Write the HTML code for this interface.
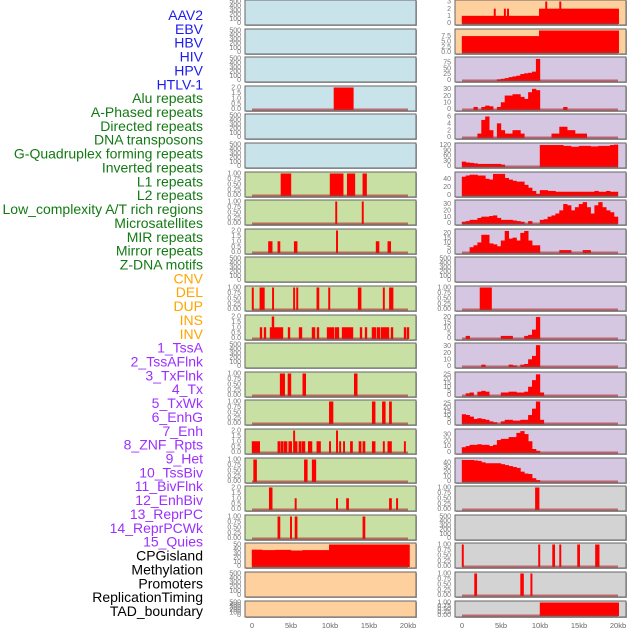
<!DOCTYPE html>
<html><head><meta charset="utf-8"><style>
html,body{margin:0;padding:0;background:#fff;}
svg{display:block;font-family:"Liberation Sans",sans-serif;}
</style></head><body>
<svg id="chart" width="630" height="630" viewBox="0 0 630 630" xmlns="http://www.w3.org/2000/svg"></svg>
<script>
// ---- labels ----
const trackLabels = ["AAV2","EBV","HBV","HIV","HPV","HTLV-1","Alu repeats","A-Phased repeats","Directed repeats","DNA transposons","G-Quadruplex forming repeats","Inverted repeats","L1 repeats","L2 repeats","Low_complexity A/T rich regions","Microsatellites","MIR repeats","Mirror repeats","Z-DNA motifs","CNV","DEL","DUP","INS","INV","1_TssA","2_TssAFlnk","3_TxFlnk","4_Tx","5_TxWk","6_EnhG","7_Enh","8_ZNF_Rpts","9_Het","10_TssBiv","11_BivFlnk","12_EnhBiv","13_ReprPC","14_ReprPCWk","15_Quies","CPGisland","Methylation","Promoters","ReplicationTiming","TAD_boundary"];
const labelGroups = ["v","v","v","v","v","v","r","r","r","r","r","r","r","r","r","r","r","r","r","s","s","s","s","s","c","c","c","c","c","c","c","c","c","c","c","c","c","c","c","k","k","k","k","k"];
const xTickLabels = ["0","5kb","10kb","15kb","20kb"];
const xTickValues = [0,5,10,15,20];
// ---- tick label sets ----
const T500 = ["0","100","200","300","400","500"];
const T1 = ["0.00","0.25","0.50","0.75","1.00"];
const T2 = ["0.0","0.5","1.0","1.5","2.0"];
// ---- left column segments [startKb, endKb, value] ----
const leftAlu = [[10.5,13.0,2]];
const leftL1 = [[3.7,5.0,1],[10.0,11.7,1],[12.2,13.2,1],[14.2,14.7,1]];
const leftLowComplex = [[10.7,10.9,1],[14.1,14.3,1]];
const leftMIR = [[2.1,2.6,1],[3.3,3.6,1],[5.4,5.8,1],[10.8,11.0,2],[15.9,16.3,1],[17.4,17.8,1]];
const leftDEL = [[0,0.2,1],[1.0,1.6,1],[2.6,2.8,1],[5.3,5.5,1],[5.7,5.9,1],[8.3,8.6,1],[9.8,10.0,1],[13.6,14.0,1],[16.8,17.0,1],[17.6,18.1,1]];
const leftINS = [[1.03,1.28,1],[1.54,1.79,1],[2.31,3.97,1],[2.56,2.82,2],[4.62,4.87,1],[6.03,6.41,1],[7.69,8.08,1],[8.33,8.59,1],[9.62,10.51,1],[10.64,11.15,1],[11.54,12.95,1],[13.85,14.10,1],[14.49,14.74,1],[15.38,15.90,1],[16.03,16.41,1],[16.54,17.56,1],[17.82,18.08,1],[19.49,19.74,1],[19.87,20.13,1]];
const leftRow13 = [[3.6,4.2,1],[4.6,5.0,1],[6.5,6.9,1],[13.1,13.5,1]];
const leftRow14 = [[9.9,10.4,1],[15.4,15.8,1],[16.7,17.1,1],[17.6,17.9,1]];
const leftRow15 = [[0,1.0,1],[3.3,3.6,1],[3.7,4.0,1],[4.1,4.5,1],[4.7,5.1,1],[5.3,5.5,2],[5.5,5.8,1],[6.0,6.3,1],[6.4,6.8,1],[7.2,7.7,1],[8.3,8.8,1],[9.9,10.1,1],[10.8,11.0,2],[11.2,11.4,1],[11.7,11.9,1],[12.6,12.9,1],[13.7,14.0,1],[14.2,14.5,1],[15.4,15.8,1],[16.8,17.0,1],[17.4,17.9,1],[19.5,19.7,1]];
const leftRow16 = [[0.2,0.6,1],[6.7,7.1,1],[7.7,8.2,1]];
const leftRow17 = [[2.2,2.6,2],[5.5,5.7,1],[10.8,11.0,1],[12.1,12.4,1],[17.6,17.9,1],[18.5,18.7,1]];
const leftRow18 = [[3.3,3.6,1],[4.9,5.1,1],[5.5,5.8,1],[14.2,14.5,1]];
const leftCPG = [[0,1.3,38],[1.3,3,37],[3,5,37.5],[5,6.5,36],[6.5,9.9,37],[9.9,20.2,50]];
// ---- right column: segments and 0.5kb-bin histograms ----
const rightRow0 = [[0,9.9,1],[9.9,20.1,2],[4.1,4.3,2],[5.4,5.6,2],[5.8,6.0,2],[10.7,10.9,3],[12.5,12.7,3]];
const rightRow1 = [[0,9.9,7.4],[9.9,20.1,10]];
const rightHIV = [0,0,0,0,0,0,0,0,0,3,5,8,12,15,18,25,28,30,35,88,0,0,0,0,0,0,0,0,0,0,0,0,0,0,0,0,0,0,0,0];
const rightAlu = [0,0,0,3,0,3,5,4,0,3,10,20,20,22,22,18,15,25,30,28,0,0,0,0,0,0,3,0,0,0,0,0,0,0,0,0,0,0,0,0];
const rightAPhased = [0,0,0,0,1,5,6,2,0,4,2,1,1,2,2,1,0,0,0,0,0,0,0,1,1,3,3,2,2,1,1,1,0,0,0,0,0,0,0,0];
const rightDirected = [25,20,18,15,12,12,12,12,12,12,8,0,0,0,0,0,0,0,0,0,120,120,120,120,120,120,115,115,110,110,115,115,115,112,112,115,115,115,120,122];
const rightInverted = [45,48,50,50,48,48,40,38,52,52,52,42,38,35,33,33,25,18,10,3,12,12,10,10,8,8,8,8,8,8,8,8,8,8,10,8,8,10,8,8];
const rightLowComplex = [2,3,5,5,8,10,10,11,12,8,5,5,5,4,3,2,0,3,0,0,5,6,10,12,15,20,30,28,20,25,30,33,25,15,28,33,25,20,17,10];
const rightMIR = [0,0,5,7,10,18,18,9,8,6,12,22,14,15,12,20,22,12,7,7,0,0,0,0,0,2,2,2,0,0,0,2,2,0,0,0,0,0,0,0];
const rightDEL = [[2.3,3.8,1]];
const rightINS = [0,2,0,0,0,0,0,0,0,0,2,2,2,0,0,0,2,3,8,20,0,0,0,0,0,0,0,0,0,0,0,0,0,0,0,0,0,0,0,0];
const rightTssA = [0,0,0,0,0,2,0,0,0,0,0,0,2,1,0,2,3,10,15,31,0,0,0,0,0,0,0,0,0,0,0,0,0,0,0,0,0,0,0,0];
const rightTssAFlnk = [0,2,3,0,4,5,4,0,0,0,3,3,4,4,3,3,4,10,18,25,3,0,0,0,0,0,0,0,0,0,0,0,0,0,0,0,0,0,0,0];
const rightTxFlnk = [11,10,8,5,6,5,4,2,1,0,2,4,4,3,3,4,4,10,18,27,4,0,0,0,0,0,0,0,0,0,0,0,0,0,0,0,0,0,0,0];
const rightTx = [8,10,12,12,13,12,12,10,12,20,22,22,25,25,32,35,30,18,5,2,0,0,0,0,0,0,0,0,0,0,0,0,0,0,0,0,0,0,0,0];
const rightRow16 = [45,45,45,44,43,40,38,38,38,38,36,34,32,30,28,20,16,15,6,2,0,0,0,0,0,0,0,0,0,0,0,0,0,0,0,0,0,0,0,0];
const rightRow17 = [[9.4,9.9,1]];
const rightRow19 = [[0,0.2,1],[9.8,10.0,1],[11.6,11.9,1],[12.5,12.7,1],[14.8,15.1,1],[17.1,17.6,1]];
const rightRow20 = [[1.6,1.9,1],[7.5,7.9,1],[8.8,9.0,1]];
const rightRow21 = [[10,20.1,1]];

const BG = {b:"#c8e3ea",g:"#c8e0a4",o:"#fdd09e",p:"#d5c6e2",y:"#d3d3d3"};
const LC = {v:"#1c1cf0",r:"#137a13",s:"#ffa500",c:"#9b30ff",k:"#000"};
const leftPanels = [
 ["b",null,null,T500,500],["b",null,null,T500,500],["b",null,null,T500,500],
 ["b",leftAlu,"seg",T2,2],["b",null,null,T500,500],["b",null,null,T500,500],
 ["g",leftL1,"seg",T1,1],["g",leftLowComplex,"seg",T1,1],["g",leftMIR,"seg",T2,2],
 ["g",null,null,T500,500],["g",leftDEL,"seg",T1,1],["g",leftINS,"seg",T2,2],
 ["g",null,null,T500,500],["g",leftRow13,"seg",T1,1],["g",leftRow14,"seg",T1,1],
 ["g",leftRow15,"seg",T2,2],["g",leftRow16,"seg",T1,1],["g",leftRow17,"seg",T2,2],
 ["g",leftRow18,"seg",T1,1],["o",leftCPG,"seg",["0","10","20","30","40","50"],50],
 ["o",null,null,T500,500],["o",null,null,T500,500]];
const rightPanels = [
 ["o",rightRow0,"seg",["0","1","2","3"],3],["o",rightRow1,"seg",["0.0","2.5","5.0","7.5"],10],
 ["p",rightHIV,"hist",["0","25","50","75"],90],["p",rightAlu,"hist",["0","10","20","30"],32],
 ["p",rightAPhased,"hist",["0","2","4","6"],6.3],["p",rightDirected,"hist",["0","30","60","90","120"],123],
 ["p",rightInverted,"hist",["0","20","40"],53],["p",rightLowComplex,"hist",["0","10","20","30"],34],
 ["p",rightMIR,"hist",["0","5","10","15","20"],22.5],["p",null,null,T500,500],
 ["p",rightDEL,"seg",T1,1],["p",rightINS,"hist",["0","5","10","15","20"],20.5],
 ["p",rightTssA,"hist",["0","10","20","30"],32],["p",rightTssAFlnk,"hist",["0","5","10","15","20","25"],26],
 ["p",rightTxFlnk,"hist",["0","5","10","15","20","25"],27],["p",rightTx,"hist",["0","10","20","30"],36],
 ["p",rightRow16,"hist",["0","10","20","30","40"],46],["y",rightRow17,"seg",T1,1],
 ["y",null,null,T500,500],["y",rightRow19,"seg",T1,1],["y",rightRow20,"seg",T1,1],["y",rightRow21,"seg",T1,1]];

const svg = document.getElementById('chart');
const NS = "http://www.w3.org/2000/svg";
function mk(tag, attrs, parent){const e=document.createElementNS(NS,tag);for(const k in attrs)e.setAttribute(k,attrs[k]);(parent||svg).appendChild(e);return e;}

trackLabels.forEach((t,i)=>{
  const e=mk('text',{x:203,y:20+i*13.86,'text-anchor':'end','font-size':14,fill:LC[labelGroups[i]]});
  e.textContent=t;
  
  
});

function drawPanel(cfg,row,col){
  const [bg,data,kind,ticks,ymax]=cfg;
  const px = col===0?245:455, pw=171;
  const top = Math.round(row*28.6), h = row===21?16:25;
  const x0 = px+7;
  const xs = kb => x0 + kb*7.8;
  const yBot = top+h-2, yTop = top+1.5;
  const ys = v => yBot - (v/ymax)*(yBot-yTop);
  const g=mk('g',{});
  
  
  mk('rect',{x:px+1,y:top+1,width:pw,height:h,fill:'#aaa'},g);
  mk('rect',{x:px,y:top,width:pw,height:h,fill:BG[bg],stroke:'#666','stroke-width':1},g);
  ticks.forEach(t=>{
    const v=parseFloat(t);
    const e=mk('text',{x:px-4,y:ys(v)+2.2,'text-anchor':'end','font-size':7,fill:'#777'},g);
    e.textContent=t;
    
    
  });
  if(!data) return;
  let segs=[];
  if(kind==='hist'){ data.forEach((v,i)=>{ if(v>0) segs.push([i*0.5,i*0.5+0.5,v]); }); }
  else segs=data;
  segs.forEach(s=>{
    const xa=xs(s[0]), xb=xs(s[1]), yv=ys(s[2]);
    const r=mk('rect',{x:xa-0.2,y:yv,width:Math.max(1.2,xb-xa+0.4),height:yBot-yv+1,fill:'#ff0000'},g);
    
    
  });
  const bl=mk('rect',{x:xs(0),y:yBot-0.5,width:xs(20)-xs(0),height:2,fill:'#b03030','fill-opacity':0.65},g);
  
  
}
leftPanels.forEach((c,i)=>drawPanel(c,i,0));
rightPanels.forEach((c,i)=>drawPanel(c,i,1));

[245,455].forEach(px=>{
  xTickValues.forEach((v,i)=>{
    const e=mk('text',{x:px+7+v*7.8,y:628,'text-anchor':'middle','font-size':7.5,fill:'#666'});
    e.textContent=xTickLabels[i];
    
    
  });
});
</script>
</body></html>
